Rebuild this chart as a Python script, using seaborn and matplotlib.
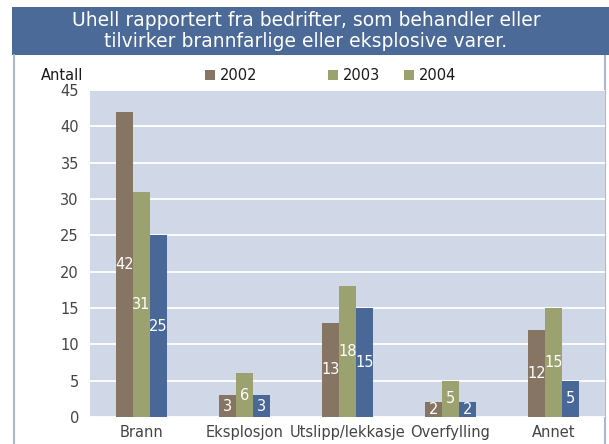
import pandas as pd
import matplotlib
matplotlib.use("Agg")
import matplotlib.pyplot as plt
import seaborn as sns
from matplotlib.patches import Rectangle
from matplotlib.lines import Line2D

# Data
categories = ["Brann", "Eksplosjon", "Utslipp/lekkasje", "Overfylling", "Annet"]
years = ["2002", "2003", "2004"]
values_2002 = [42, 3, 13, 2, 12]
values_2003 = [31, 6, 18, 5, 15]
values_2004 = [25, 3, 15, 2, 5]
y_ticks = [0, 5, 10, 15, 20, 25, 30, 35, 40, 45]

title = "Uhell rapportert fra bedrifter, som behandler eller\ntilvirker brannfarlige eller eksplosive varer."

# Colours
bar_colors = ["#877563", "#9ca170", "#4a6897"]
legend_colors = ["#877563", "#9ca170", "#9ca170"]  # the reference legend shows 2004 in olive
banner_color = "#4b6a98"
plot_bg = "#d0d8e8"
border_color = "#a9b9d2"

# Long-form table for seaborn
df = pd.DataFrame({
    "kategori": categories * 3,
    "antall": values_2002 + values_2003 + values_2004,
    "år": [years[0]] * 5 + [years[1]] * 5 + [years[2]] * 5,
})

sns.set_theme(style="white")
plt.rcParams["font.family"] = ["DejaVu Sans"]

W, H = 609, 444
fig = plt.figure(figsize=(W / 100, H / 100), dpi=100)
fig.patch.set_facecolor("white")

ax = fig.add_axes([90 / W, 1 - 417 / H, (605 - 90) / W, (417 - 90) / H])
ax.set_facecolor(plot_bg)

sns.barplot(data=df, x="kategori", y="antall", hue="år", palette=bar_colors,
            width=0.5, saturation=1, legend=False, linewidth=0, ax=ax, zorder=3)

for cont in ax.containers:
    ax.bar_label(cont, label_type="center", color="white", fontsize=10.5)

ax.set_ylim(0, 45)
ax.set_xlim(-0.5, 4.5)
ax.set_yticks(y_ticks)
ax.yaxis.grid(True, color="white", linewidth=1.3, zorder=0)
ax.set_axisbelow(True)
ax.set_xlabel("")
ax.set_ylabel("")
for s in ax.spines.values():
    s.set_visible(False)
ax.tick_params(axis="both", length=0, labelsize=10.5, colors="#444444")
ax.tick_params(axis="y", pad=8)
ax.tick_params(axis="x", pad=6)

# Title banner
fig.add_artist(Rectangle((12 / W, 1 - 55 / H), (W - 12) / W, 48 / H,
                         transform=fig.transFigure, facecolor=banner_color,
                         edgecolor="none", zorder=0))
fig.text(306 / W, 1 - 31 / H, title, ha="center", va="center", color="white",
         fontsize=13.5, linespacing=1.1)

# Frame lines left and right
fig.add_artist(Line2D([14 / W, 14 / W], [0, 1 - 55 / H], transform=fig.transFigure,
                      color=border_color, linewidth=1.5))
fig.add_artist(Line2D([605 / W, 605 / W], [1 - 444 / H, 1 - 30 / H], transform=fig.transFigure,
                      color=border_color, linewidth=1.5, zorder=-1))

# Legend row
fig.text(83 / W, 1 - 75 / H, "Antall", ha="right", va="center", fontsize=10.5, color="#1a1a1a")
legend_x = [205, 328, 404]
for x, yr, c in zip(legend_x, years, legend_colors):
    fig.add_artist(Rectangle((x / W, 1 - 80 / H), 10 / W, 10 / H,
                             transform=fig.transFigure, facecolor=c, edgecolor="none"))
    fig.text((x + 15) / W, 1 - 75 / H, yr, ha="left", va="center", fontsize=10.5, color="#1a1a1a")

fig.savefig("out.png", dpi=100)
